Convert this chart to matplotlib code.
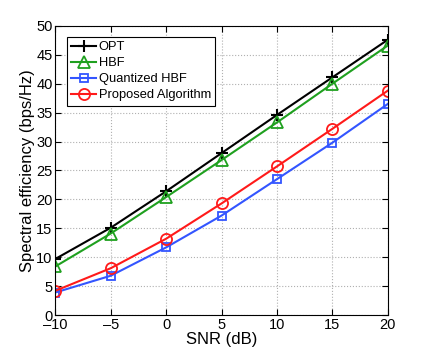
import numpy as np
import matplotlib
matplotlib.use("Agg")
import matplotlib.pyplot as plt

plt.rcParams['font.family'] = ['Liberation Sans', 'DejaVu Sans']

snr = [-10, -5, 0, 5, 10, 15, 20]
opt = [9.7, 15.1, 21.4, 28.0, 34.6, 41.1, 47.6]
hbf = [8.4, 14.1, 20.4, 26.8, 33.3, 40.0, 46.6]
quant_hbf = [3.9, 6.8, 11.7, 17.2, 23.5, 29.8, 36.5]
proposed = [4.2, 8.1, 13.2, 19.3, 25.7, 32.2, 38.8]

fig = plt.figure(figsize=(4.29, 3.54), dpi=100)
ax = fig.add_axes([0.129, 0.110, 0.775, 0.817])

ax.plot(snr, opt, color='black', marker='+', ms=8, mew=1.5, lw=1.5, label='OPT')
ax.plot(snr, hbf, color='#1fa01f', marker='^', ms=8, mfc='none', mew=1.3, lw=1.5, label='HBF')
ax.plot(snr, quant_hbf, color='#3355ff', marker='s', ms=6, mfc='none', mew=1.3, lw=1.5, label='Quantized HBF')
ax.plot(snr, proposed, color='#ff1a1a', marker='o', ms=8, mfc='none', mew=1.3, lw=1.5, label='Proposed Algorithm')

ax.set_xlim(-10, 20)
ax.set_ylim(0, 50)
ax.set_xticks(snr)
ax.set_yticks(np.arange(0, 51, 5))
ax.set_xticklabels(['\u201310', '\u20135', '0', '5', '10', '15', '20'])
ax.tick_params(direction='in', top=True, right=True, labelsize=10.5, length=4, pad=2)
ax.grid(True, linestyle=':', color='#b0b0b0', lw=0.8)
ax.set_xlabel('SNR (dB)', fontsize=12, labelpad=0)
ax.set_ylabel('Spectral efficiency (bps/Hz)', fontsize=12, labelpad=1)

leg = ax.legend(loc='upper left', bbox_to_anchor=(0.035, 0.962), fontsize=9.3,
                fancybox=False, edgecolor='black', framealpha=1,
                handlelength=1.9, borderpad=0.35, labelspacing=0.3, handletextpad=0.2,
                borderaxespad=0)
leg.get_frame().set_linewidth(0.8)

fig.savefig('out.png', dpi=100)
